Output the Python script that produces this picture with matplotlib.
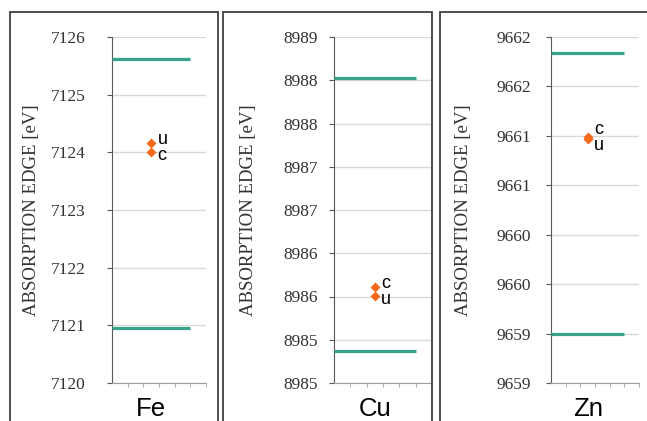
import numpy as np
import matplotlib.pyplot as plt
from matplotlib.patches import Rectangle
from matplotlib.ticker import MultipleLocator, FuncFormatter, FixedLocator

# absorption edges
elements = ['Fe', 'Cu', 'Zn']
upper_limit = [7125.61, 8988.03, 9661.84]
lower_limit = [7120.95, 8984.87, 9659.00]
edge_u = [7124.16, 8985.51, 9660.97]
edge_c = [7124.00, 8985.61, 9660.99]
y_min = [7120, 8984.5, 9658.5]
y_max = [7126, 8988.5, 9662.0]
y_step = [1, 0.5, 0.5]

W, H = 647, 421
fig = plt.figure(figsize=(W / 100, H / 100), dpi=100)

# pixel geometry of each panel: box left/right, axes left/right, ylabel x, tick pad (pt)
boxes = [(10, 218), (223, 432), (440, 650)]
axes_px = [(112, 206), (334, 432), (551, 639)]
ylabel_x = [40, 257, 472]
tick_pad = [15.5, 7.8, 10.5]
ax_top, ax_bot = 37, 383

green = '#35A48A'
orange = '#F7691A'
serif = 'Liberation Serif'
sans = 'Liberation Sans'

fmt = FuncFormatter(lambda v, p: f"{int(np.floor(v + 0.5 + 1e-9))}")

for i, el in enumerate(elements):
    bl, br = boxes[i]
    fig.patches.append(Rectangle((bl / W, -0.05), (br - bl) / W, 1 - 12 / H + 0.05,
                                 transform=fig.transFigure, fill=False,
                                 edgecolor='#404040', lw=1.3))
    l, r = axes_px[i]
    ax = fig.add_axes([l / W, 1 - ax_bot / H, (r - l) / W, (ax_bot - ax_top) / H])
    ax.set_xlim(0, 6)
    ax.set_ylim(y_min[i], y_max[i])

    ax.plot([0, 5], [upper_limit[i]] * 2, color=green, lw=2.3, solid_capstyle='butt', zorder=3)
    ax.plot([0, 5], [lower_limit[i]] * 2, color=green, lw=2.3, solid_capstyle='butt', zorder=3)
    ax.plot([2.5], [edge_u[i]], 'D', color=orange, ms=5, mec='none', zorder=4)
    ax.plot([2.5], [edge_c[i]], 'D', color=orange, ms=5, mec='none', zorder=4)

    # letter labels: higher point's label above, lower one below
    mid = (edge_u[i] + edge_c[i]) / 2
    hi, lo = ('u', 'c') if edge_u[i] > edge_c[i] else ('c', 'u')
    ax.annotate(hi, (2.5, mid), xytext=(4.5, 5.8), textcoords='offset points',
                va='center', ha='left', fontsize=13, family=sans)
    ax.annotate(lo, (2.5, mid), xytext=(4.5, -5.8), textcoords='offset points',
                va='center', ha='left', fontsize=13, family=sans)

    ax.yaxis.set_major_locator(MultipleLocator(y_step[i]))
    ax.yaxis.set_major_formatter(fmt)
    ax.grid(axis='y', color='#D9D9D9', lw=1)
    ax.set_axisbelow(True)

    ax.xaxis.set_major_locator(FixedLocator([2.5]))
    ax.set_xticklabels([el])
    ax.xaxis.set_minor_locator(FixedLocator([1, 2, 3, 4, 5, 6]))
    ax.tick_params(axis='x', which='major', length=0, pad=10, labelsize=18.5)
    ax.tick_params(axis='x', which='minor', length=3, color='#A0A0A0')
    for t in ax.get_xticklabels():
        t.set_family(sans)
    ax.tick_params(axis='y', length=3.6, color='#595959', pad=tick_pad[i], labelsize=12.5)
    for t in ax.get_yticklabels():
        t.set_family(serif)
        t.set_color('#333333')

    for s in ['top', 'right']:
        ax.spines[s].set_visible(False)
    ax.spines['left'].set_color('#595959')
    ax.spines['bottom'].set_color('#A0A0A0')

    ax.set_ylabel('ABSORPTION EDGE [eV]', family=serif, fontsize=13.5, color='#333333')
    ax.yaxis.set_label_coords((ylabel_x[i] - l) / (r - l), 0.5)

fig.savefig('out.png', dpi=100)
